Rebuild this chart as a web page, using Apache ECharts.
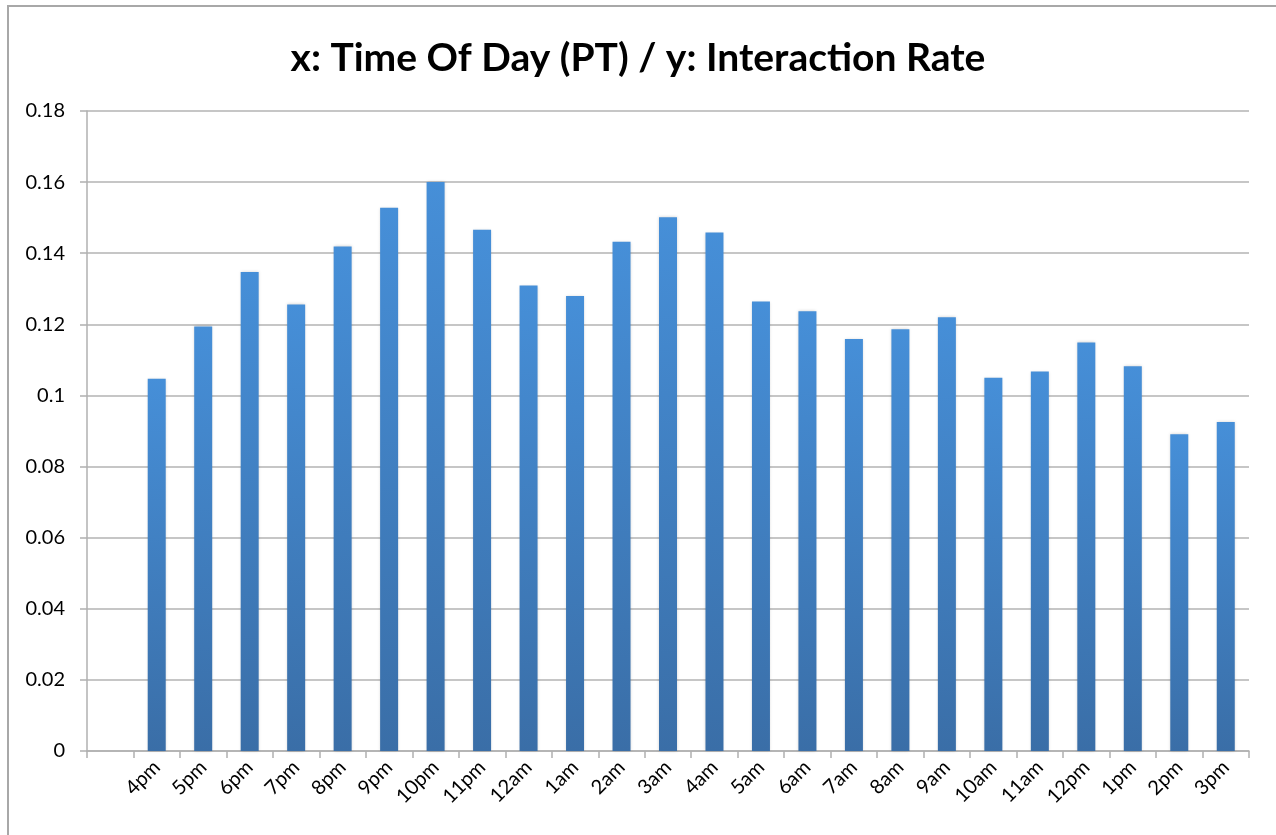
<!DOCTYPE html>
<html>
<head>
<meta charset="utf-8">
<script src="https://cdn.jsdelivr.net/npm/echarts@6/dist/echarts.min.js"></script>
<style>
  html, body { margin: 0; padding: 0; background: #fff; }
  #chart { width: 1276px; height: 835px; }
</style>
</head>
<body>
<div id="chart"></div>
<script>
// first slot is left empty, like in the original sheet
var hours = ['', '4pm', '5pm', '6pm', '7pm', '8pm', '9pm', '10pm', '11pm', '12am', '1am', '2am', '3am',
             '4am', '5am', '6am', '7am', '8am', '9am', '10am', '11am', '12pm', '1pm', '2pm', '3pm'];
var rates = [null, 0.1047, 0.1194, 0.1347, 0.1256, 0.1419, 0.1528, 0.1600, 0.1466, 0.1309, 0.1280, 0.1432, 0.1501,
             0.1458, 0.1264, 0.1237, 0.1159, 0.1186, 0.1220, 0.1050, 0.1067, 0.1149, 0.1082, 0.0891, 0.0925];
var yTicks = [0, 0.02, 0.04, 0.06, 0.08, 0.1, 0.12, 0.14, 0.16, 0.18];

var myChart = echarts.init(document.getElementById('chart'));

var option = {
    animation: false,
    backgroundColor: '#fff',
    title: {
        text: 'x: Time Of Day (PT) / y: Interaction Rate',
        left: 'center',
        top: 34,
        textStyle: {
            fontFamily: 'Lato',
            fontWeight: 'bold',
            fontSize: 39,
            color: '#000'
        }
    },
    graphic: [{
        type: 'rect',
        shape: { x: 8, y: 6, width: 1400, height: 1000 },
        style: { fill: 'none', stroke: '#a8a8a8', lineWidth: 2 },
        silent: true
    }],
    grid: {
        left: 87,
        right: 27,
        top: 111,
        bottom: 84
    },
    xAxis: {
        type: 'category',
        data: hours,
        axisLine: { lineStyle: { color: '#b0b0b0', width: 1.5 } },
        axisTick: { show: true, length: 7, interval: 0, lineStyle: { color: '#b0b0b0', width: 1.5 } },
        axisLabel: {
            interval: 0,
            rotate: 45,
            margin: 13,
            color: '#000',
            fontFamily: 'Lato',
            fontSize: 20
        }
    },
    yAxis: {
        type: 'value',
        min: 0,
        max: 0.18,
        interval: 0.02,
        axisLine: { show: true, lineStyle: { color: '#b0b0b0', width: 1.5 } },
        axisTick: { show: true, length: 7, lineStyle: { color: '#b0b0b0', width: 1.5 } },
        splitLine: { lineStyle: { color: '#b3b3b3', width: 1.5 } },
        axisLabel: {
            margin: 22,
            color: '#000',
            fontFamily: 'Lato',
            fontSize: 20,
            formatter: function (v) {
                var s = String(Math.round(v * 100) / 100);
                return yTicks.indexOf(Number(s)) >= 0 ? s : '';
            }
        }
    },
    series: [{
        type: 'bar',
        data: rates,
        barWidth: 18,
        itemStyle: {
            color: new echarts.graphic.LinearGradient(0, 0, 0, 1, [
                { offset: 0, color: '#468fd8' },
                { offset: 1, color: '#3a6ea7' }
            ]),
            shadowColor: 'rgba(0,0,0,0.18)',
            shadowBlur: 3
        }
    }]
};

myChart.setOption(option);
</script>
</body>
</html>
